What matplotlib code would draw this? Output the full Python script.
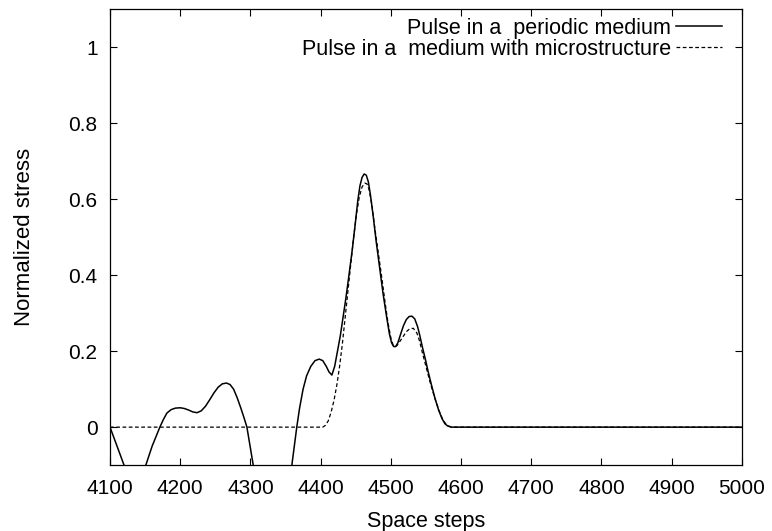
import matplotlib
matplotlib.use('Agg')
import matplotlib.pyplot as plt

plt.rcParams['font.family'] = ['Liberation Sans', 'DejaVu Sans']

# Pulse in a periodic medium (solid)
x_periodic = [4100, 4110, 4120, 4126, 4145, 4151, 4160, 4171, 4176, 4181, 4187, 4193,
              4200, 4206, 4212, 4218, 4224, 4230, 4236, 4242, 4248, 4254, 4260, 4266,
              4271, 4276, 4281, 4286, 4291, 4295, 4304, 4310,
              4352, 4359, 4366, 4370, 4375, 4380, 4386, 4392, 4398, 4403, 4408, 4412,
              4416, 4420, 4424, 4428, 4432, 4436, 4440, 4445, 4449, 4453, 4456, 4459,
              4462, 4465, 4468, 4471, 4475, 4479, 4484, 4489, 4494, 4498, 4501, 4504,
              4507, 4510, 4514, 4518, 4522, 4526, 4530, 4534, 4538, 4541, 4545, 4549,
              4553, 4558, 4563, 4568, 4573, 4577, 4581, 4586, 5000]
y_periodic = [0.0, -0.05, -0.1, -0.13, -0.13, -0.1, -0.05, 0.0, 0.02, 0.037, 0.046, 0.05,
              0.051, 0.049, 0.045, 0.04, 0.038, 0.043, 0.055, 0.072, 0.09, 0.105, 0.114, 0.116,
              0.112, 0.1, 0.078, 0.052, 0.024, 0.0, -0.1, -0.15,
              -0.15, -0.1, 0.0, 0.05, 0.1, 0.135, 0.16, 0.175, 0.179, 0.175, 0.16, 0.145,
              0.137, 0.16, 0.2, 0.24, 0.29, 0.34, 0.395, 0.466, 0.53, 0.597, 0.635, 0.657,
              0.666, 0.663, 0.645, 0.61, 0.553, 0.49, 0.42, 0.35, 0.29, 0.245, 0.222, 0.212,
              0.212, 0.222, 0.245, 0.267, 0.283, 0.291, 0.292, 0.285, 0.265, 0.243, 0.21, 0.18,
              0.147, 0.11, 0.075, 0.045, 0.022, 0.009, 0.003, 0.0, 0.0]

# Pulse in a medium with microstructure (dashed)
x_micro = [4100, 4403, 4407, 4411, 4415, 4419, 4423, 4427, 4431, 4435, 4439, 4443,
           4447, 4451, 4455, 4459, 4463, 4466, 4469, 4473, 4477, 4482, 4487, 4492,
           4496, 4500, 4503, 4506, 4509, 4513, 4517, 4522, 4527, 4532, 4537, 4541,
           4545, 4550, 4555, 4560, 4565, 4570, 4574, 4578, 4582, 4587, 5000]
y_micro = [0.0, 0.0, 0.005, 0.017, 0.04, 0.07, 0.11, 0.16, 0.22, 0.29, 0.36, 0.43,
           0.5, 0.56, 0.605, 0.632, 0.642, 0.64, 0.625, 0.585, 0.526, 0.46, 0.395, 0.325,
           0.274, 0.235, 0.217, 0.212, 0.215, 0.226, 0.237, 0.251, 0.259, 0.26, 0.248, 0.226,
           0.195, 0.16, 0.124, 0.092, 0.063, 0.037, 0.02, 0.009, 0.003, 0.0, 0.0]

x_ticks = [4100, 4200, 4300, 4400, 4500, 4600, 4700, 4800, 4900, 5000]
y_ticks = [0, 0.2, 0.4, 0.6, 0.8, 1]
y_ticklabels = ['0', '0.2', '0.4', '0.6', '0.8', '1']

fig = plt.figure(figsize=(7.72, 5.31), dpi=100)
ax = fig.add_axes([0.1425, 0.124, 0.8185, 0.859])

ax.plot(x_periodic, y_periodic, color='black', lw=1.1, label='Pulse in a  periodic medium')
ax.plot(x_micro, y_micro, color='black', lw=0.9, ls=(0, (3, 2)),
        label='Pulse in a  medium with microstructure')

ax.set_xlim(4100, 5000)
ax.set_ylim(-0.1, 1.1)
ax.set_xticks(x_ticks)
ax.set_yticks(y_ticks)
ax.set_yticklabels(y_ticklabels)
ax.tick_params(direction='in', top=True, right=True, length=5, width=0.8,
               labelsize=15)
ax.tick_params(axis='x', pad=10)
ax.tick_params(axis='y', pad=9)
for s in ax.spines.values():
    s.set_linewidth(0.9)

ax.set_xlabel('Space steps', fontsize=15.5)
ax.set_ylabel('Normalized stress', fontsize=16)
ax.xaxis.set_label_coords(0.5, -0.1)
ax.yaxis.set_label_coords(-0.118, 0.5)

leg = ax.legend(loc='upper right', bbox_to_anchor=(0.9826, 1.0), frameon=False,
                fontsize=15.5, markerfirst=False, handlelength=2.14,
                borderaxespad=0, borderpad=0.4, labelspacing=0.0,
                handletextpad=0.25)
for t in leg.get_texts():
    t.set_ha('right')

fig.savefig('out.png', dpi=100)
